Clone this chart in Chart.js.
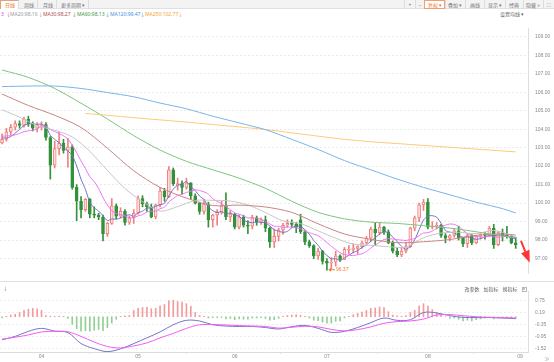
<!DOCTYPE html>
<html>
<head>
<meta charset="utf-8">
<script src="https://cdn.jsdelivr.net/npm/chart.js@4.4.1/dist/chart.umd.min.js"></script>
<style>
html,body{margin:0;padding:0;background:#fff;}
body{width:554px;height:362px;position:relative;overflow:hidden;font-family:"Noto Sans","Noto Sans CJK SC",sans-serif;}
.box{position:absolute;box-sizing:border-box;}
.t{position:absolute;white-space:nowrap;font-size:10px;line-height:12px;font-family:"Noto Sans","Noto Sans CJK SC",sans-serif;}
.c{transform-origin:50% 50%;transform:translate(-50%,-50%) scale(0.5);}
.l{transform-origin:0 50%;transform:translateY(-50%) scale(0.5);}
canvas{position:absolute;left:0;}
</style>
</head>
<body>
<canvas id="main" width="554" height="265" style="top:18px;width:554px;height:265px;"></canvas>
<canvas id="macd" width="554" height="81" style="top:281px;width:554px;height:81px;"></canvas>
<div id="overlay"></div>
<script>
// ---------------- DATA ----------------
const dates = ['03-19','03-20','03-21','03-24','03-25','03-26','03-27','03-28','03-31',
'04-01','04-02','04-03','04-04','04-07','04-08','04-09','04-10','04-11','04-14','04-15','04-16','04-17','04-18','04-21','04-22','04-23','04-24','04-25','04-28','04-29','04-30',
'05-01','05-02','05-05','05-06','05-07','05-08','05-09','05-12','05-13','05-14','05-15','05-16','05-19','05-20','05-21','05-22','05-23','05-26','05-27','05-28','05-29','05-30',
'06-02','06-03','06-04','06-05','06-06','06-09','06-10','06-11','06-12','06-13','06-16','06-17','06-18','06-19','06-20','06-23','06-24','06-25','06-26','06-27','06-30',
'07-01','07-02','07-03','07-04','07-07','07-08','07-09','07-10','07-11','07-14','07-15','07-16','07-17','07-18','07-21','07-22','07-23','07-24','07-25','07-28','07-29','07-30','07-31',
'08-01','08-04','08-05','08-06','08-07','08-08','08-11','08-12','08-13','08-14','08-15','08-18','08-19','08-20','08-21','08-22','08-25','08-26','08-27','08-28','08-29',
'09-01'];

const opens = [103.25,103.45,103.85,104.10,104.30,104.20,104.55,104.30,104.05,104.20,
104.25,103.55,102.05,102.95,103.25,102.85,103.05,100.85,100.10,99.65,
100.20,99.40,99.35,99.25,98.35,98.90,99.85,99.30,99.55,98.95,
99.20,99.45,100.25,99.95,99.80,99.25,99.90,100.65,100.35,101.80,
100.95,101.05,100.85,101.10,100.40,100.00,99.55,99.95,99.10,99.35,
99.50,99.85,99.25,99.40,98.70,99.25,98.80,98.75,99.20,98.95,
99.10,98.65,97.90,98.20,98.55,98.80,98.90,98.85,99.10,98.45,
97.90,97.70,97.15,97.40,96.85,96.75,96.80,97.15,96.95,97.45,
97.50,97.55,97.65,97.85,98.10,98.60,98.40,98.70,98.45,97.85,
97.40,97.20,97.40,97.65,98.65,99.20,99.90,100.05,98.70,98.75,
98.80,98.25,98.10,98.25,98.50,98.10,97.80,98.25,97.85,98.20,
98.30,98.25,98.65,97.75,98.40,98.25,98.20,97.85];
const highs = [103.75,104.05,104.25,104.45,104.45,104.65,104.70,104.40,104.35,104.40,
104.35,103.60,103.35,103.85,103.45,103.50,103.15,101.00,100.35,100.25,
100.25,99.80,99.45,99.35,98.95,100.25,99.95,99.75,99.65,99.30,
99.65,100.40,100.40,100.05,99.95,99.95,100.85,100.80,101.98,101.90,
101.35,101.20,101.35,101.10,100.50,100.05,100.20,100.05,99.40,99.65,
100.10,100.55,99.60,99.45,99.35,99.35,99.05,99.35,99.30,99.20,
99.30,98.70,98.60,98.65,98.90,99.10,99.10,98.95,99.40,98.50,
98.00,97.75,97.55,97.45,97.00,97.05,97.40,97.20,97.60,97.70,
97.80,97.70,97.95,98.20,98.70,98.95,98.95,98.75,98.55,97.95,
97.55,97.60,97.85,98.70,99.30,100.00,100.20,100.25,99.00,98.95,
98.85,98.35,98.30,98.60,98.75,98.15,98.35,98.30,98.25,98.35,
98.40,98.75,98.85,98.45,98.60,98.75,98.25,98.15];
const lows = [103.20,103.35,103.70,103.95,104.05,104.10,104.15,103.90,103.85,103.95,
103.40,101.30,101.90,102.60,102.70,101.95,100.75,99.05,99.20,99.55,
99.20,99.20,99.10,97.95,98.20,98.85,99.15,99.20,98.80,98.85,
98.90,99.40,99.80,99.55,99.20,99.15,99.80,100.10,100.30,100.95,
100.70,100.50,100.75,100.20,99.95,99.40,99.40,98.70,98.70,98.80,
99.40,99.10,99.00,98.60,98.60,98.70,98.35,98.60,98.80,98.85,
98.45,97.60,97.60,97.95,98.30,98.70,98.70,98.40,98.35,97.75,
97.60,97.00,96.95,96.70,96.37,96.45,96.60,96.85,96.95,97.25,
97.30,97.25,97.55,97.80,97.90,97.70,98.30,98.30,97.80,97.30,
97.10,97.10,97.30,97.60,98.50,99.00,99.60,98.60,98.60,98.60,
98.15,97.85,97.95,98.15,98.00,97.65,97.60,97.75,97.80,98.05,
98.05,98.20,97.55,97.70,97.95,98.10,97.80,97.55];
const closes = [103.45,103.85,104.10,104.30,104.20,104.55,104.30,104.05,104.20,104.25,
103.55,102.05,102.95,103.25,102.85,103.05,100.85,100.10,99.65,100.20,
99.40,99.35,99.25,98.35,98.90,99.85,99.30,99.55,98.95,99.20,
99.45,100.25,99.95,99.80,99.25,99.90,100.65,100.35,101.80,101.05,
101.05,100.85,101.10,100.40,100.00,99.55,99.95,99.10,99.35,99.50,
99.85,99.25,99.40,98.70,99.25,98.80,98.75,99.20,98.95,99.10,
98.65,97.90,98.20,98.55,98.80,98.90,98.85,98.70,98.45,97.90,
97.70,97.15,97.40,96.85,96.75,96.80,97.15,96.95,97.50,97.50,
97.55,97.65,97.85,98.10,98.60,98.40,98.70,98.45,97.85,97.40,
97.20,97.40,97.65,98.65,99.20,99.90,100.05,98.70,98.75,98.80,
98.25,98.10,98.25,98.50,98.10,97.80,98.25,97.85,98.20,98.30,
98.25,98.65,97.75,98.40,98.25,98.20,97.85,97.75];

const ma5 = [103.52,103.52,103.60,103.79,103.98,104.20,104.29,104.28,104.26,104.27,
104.12,103.67,103.45,103.26,103.00,102.82,102.58,102.01,101.29,100.74,
100.04,99.74,99.57,99.31,99.05,99.14,99.13,99.19,99.31,99.37,
99.29,99.48,99.56,99.73,99.74,99.83,99.91,99.99,100.39,100.75,
100.98,101.02,101.17,100.89,100.68,100.38,100.20,99.80,99.59,99.49,
99.55,99.41,99.47,99.34,99.29,99.08,98.98,98.94,98.99,98.96,
98.93,98.76,98.56,98.48,98.42,98.47,98.66,98.76,98.74,98.56,
98.32,97.98,97.72,97.40,97.17,96.99,96.99,96.90,97.03,97.18,
97.33,97.43,97.61,97.73,97.95,98.12,98.33,98.45,98.40,98.16,
97.92,97.66,97.50,97.66,98.02,98.56,99.09,99.30,99.32,99.24,
98.91,98.52,98.43,98.38,98.24,98.15,98.18,98.10,98.04,98.08,
98.17,98.25,98.23,98.27,98.26,98.25,98.09,98.09];
const ma10 = [103.62,103.63,103.65,103.69,103.77,103.86,103.91,103.94,104.03,104.13,
104.16,103.98,103.87,103.76,103.64,103.47,103.13,102.73,102.28,101.87,
101.43,101.16,100.79,100.30,99.90,99.59,99.44,99.38,99.31,99.21,
99.22,99.31,99.38,99.52,99.56,99.56,99.70,99.78,100.06,100.25,
100.41,100.47,100.58,100.64,100.72,100.68,100.61,100.49,100.24,100.09,
99.97,99.81,99.64,99.47,99.39,99.32,99.20,99.21,99.17,99.13,
99.01,98.87,98.75,98.74,98.69,98.70,98.71,98.66,98.61,98.49,
98.40,98.32,98.24,98.07,97.87,97.66,97.49,97.31,97.22,97.18,
97.16,97.21,97.26,97.38,97.57,97.73,97.88,98.03,98.07,98.06,
98.02,98.00,97.98,98.03,98.09,98.24,98.38,98.40,98.49,98.63,
98.74,98.81,98.87,98.85,98.74,98.53,98.35,98.27,98.21,98.16,
98.16,98.22,98.17,98.16,98.17,98.21,98.17,98.16];
const ma20At = [0,4,8,12,16,20,24,28,32,36,40,44,48,52,56,60,64,68,72,76,80,84,88,92,96,100,104,108,112,116,117];
const ma20 = [105.05,104.65,104.19,103.94,103.58,102.80,101.77,100.79,100.08,99.57,99.81,100.14,100.15,100.11,99.90,99.49,99.04,98.89,98.50,98.10,97.78,97.72,97.64,97.62,98.13,98.38,98.42,98.35,98.52,98.26,98.16];
const slowAt = [0,6,12,18,24,30,36,42,48,54,60,66,72,78,84,90,96,102,108,114,117];
const ma30 = [105.90,105.28,104.75,104.09,102.97,101.75,100.85,100.27,99.87,99.89,99.79,99.50,98.88,98.33,98.04,97.86,97.91,98.03,98.26,98.33,98.27];
const ma60 = [107.20,106.80,106.20,105.40,104.55,103.65,102.87,102.26,101.80,101.35,100.80,100.10,99.50,99.15,98.97,98.90,98.78,98.65,98.45,98.22,98.13];
const ma120 = [106.30,106.33,106.33,106.20,105.98,105.75,105.41,105.10,104.70,104.34,103.97,103.45,102.90,102.30,101.80,101.30,100.85,100.45,100.05,99.70,99.47];
const ma250At = [19,24,30,36,42,48,54,60,66,72,78,84,90,96,102,108,114,117];
const ma250 = [104.85,104.75,104.62,104.50,104.38,104.25,104.12,103.98,103.80,103.62,103.45,103.32,103.22,103.12,103.02,102.92,102.82,102.77];

const macdHist = [-0.06,0.02,0.08,0.12,0.20,0.30,0.36,0.40,0.38,0.30,
0.06,0.03,0.02,0.03,0.02,-0.08,-0.36,-0.56,-0.68,-0.66,
-0.68,-0.64,-0.60,-0.66,-0.52,-0.30,-0.12,0.02,0.04,0.06,
0.30,0.40,0.44,0.45,0.38,0.40,0.52,0.58,0.76,0.78,
0.72,0.70,0.62,0.50,0.20,0.06,0.02,-0.06,-0.04,-0.04,
-0.03,-0.10,-0.08,-0.14,-0.10,-0.12,-0.12,-0.06,-0.06,-0.04,
-0.08,-0.16,-0.14,-0.08,0.02,0.06,0.08,0.10,0.06,0.02,
-0.06,-0.16,-0.18,-0.26,-0.30,-0.30,-0.22,-0.20,-0.06,0.02,
0.10,0.16,0.22,0.30,0.40,0.42,0.46,0.44,0.24,0.08,
0.04,0.02,0.06,0.20,0.30,0.52,0.62,0.50,0.34,0.20,
0.10,0.00,-0.08,-0.06,-0.12,-0.20,-0.16,-0.20,-0.14,-0.10,
-0.06,-0.02,-0.10,-0.06,-0.04,-0.03,-0.06,-0.08];
const macdAt = [0,3,6,9,12,15,18,21,24,27,30,33,36,39,42,45,48,51,54,57,60,63,66,69,72,75,78,81,84,87,90,93,96,99,102,105,108,111,114,117];
const dif = [-1.09,-0.93,-0.69,-0.55,-0.68,-0.75,-1.27,-1.51,-1.65,-1.52,
-1.27,-1.00,-0.72,-0.38,-0.17,-0.20,-0.38,-0.44,-0.46,-0.46,
-0.51,-0.58,-0.47,-0.41,-0.55,-0.74,-0.69,-0.51,-0.28,-0.06,
-0.17,-0.14,0.20,0.18,0.05,-0.03,-0.04,-0.04,-0.06,-0.09];
const dea = [-1.06,-0.97,-0.86,-0.72,-0.69,-0.71,-0.93,-1.20,-1.41,-1.48,
-1.38,-1.24,-1.00,-0.79,-0.55,-0.38,-0.37,-0.39,-0.42,-0.44,
-0.46,-0.54,-0.50,-0.45,-0.48,-0.60,-0.67,-0.61,-0.48,-0.31,
-0.23,-0.20,-0.11,0.08,0.10,0.05,0.00,-0.03,-0.04,-0.06];

const priceTicks = [97,98,99,100,101,102,103,104,105,106,107,108,109];
const macdTicks = [0.75,0.19,-0.35,-0.95,-1.52];
const monthLabels = ['04','05','06','07','08','09'];
const monthStarts = ['04-01','05-01','06-02','07-01','08-01','09-01'];
const arrowFrom = {x:118.2, y:97.96};
const arrowTo = {x:120.2, y:96.78};

// ---------------- VIEW ----------------
const xMin = -0.46, xMax = 119.8;
const priceMin = 96.22, priceMax = 109.47;
const macdMin = -1.67, macdMax = 1.22;
const FONT = 'Liberation Sans, Arial, sans-serif';
Chart.defaults.font.family = FONT;

const UP = '#f08080', UPFILL = '#fde2e2', DOWN = '#33913a';
const idx = opens.map((_, i) => i);
const isUp = i => closes[i] >= opens[i];
const pts = (at, arr) => at.map((x, k) => ({x, y: arr[k]}));
const line = (data, color, tension) => ({type:'line', data, borderColor:color, borderWidth:1, pointRadius:0, tension:tension, order:1, fill:false});

const markerPlugin = {
  id:'marks',
  afterDraw(chart){
    const {ctx, scales:{x, y}} = chart;
    const lo = Math.min(...lows), iMin = lows.indexOf(lo);
    const px = x.getPixelForValue(iMin), py = y.getPixelForValue(lo);
    ctx.save();
    ctx.strokeStyle = ctx.fillStyle = '#f07a35';
    ctx.lineWidth = 1;
    ctx.beginPath(); ctx.moveTo(px + 2, py - 0.5); ctx.lineTo(px + 8, py - 0.5); ctx.stroke();
    ctx.beginPath(); ctx.moveTo(px + 1.5, py - 0.5); ctx.lineTo(px + 4, py - 2.5); ctx.lineTo(px + 4, py + 1.5); ctx.closePath(); ctx.fill();
    ctx.font = '5px ' + FONT; ctx.textBaseline = 'middle'; ctx.textAlign = 'left';
    ctx.fillText(lo.toFixed(2), px + 9, py - 0.5);
    // annotation arrow
    const x1 = x.getPixelForValue(arrowFrom.x), y1 = y.getPixelForValue(arrowFrom.y);
    const x2 = x.getPixelForValue(arrowTo.x), y2 = y.getPixelForValue(arrowTo.y);
    const a = Math.atan2(y2 - y1, x2 - x1), head = 12, hw = 4.5;
    const bx = x2 - head * Math.cos(a), by = y2 - head * Math.sin(a);
    ctx.strokeStyle = ctx.fillStyle = '#ff3434';
    ctx.lineWidth = 2;
    ctx.beginPath(); ctx.moveTo(x1, y1); ctx.lineTo(bx, by); ctx.stroke();
    ctx.beginPath(); ctx.moveTo(x2, y2);
    ctx.lineTo(bx + hw * Math.sin(a), by - hw * Math.cos(a));
    ctx.lineTo(bx - hw * Math.sin(a), by + hw * Math.cos(a));
    ctx.closePath(); ctx.fill();
    ctx.restore();
  }
};

new Chart(document.getElementById('main'), {
  type:'bar',
  data:{datasets:[
    {type:'bar', data: idx.map(i => ({x:i, y:[lows[i], highs[i]]})), backgroundColor: idx.map(i => isUp(i) ? UP : DOWN), barThickness:1, grouped:false, order:3},
    {type:'bar', data: idx.map(i => ({x:i, y:[opens[i], closes[i]]})), backgroundColor: idx.map(i => isUp(i) ? UPFILL : DOWN), borderColor: idx.map(i => isUp(i) ? UP : DOWN), borderWidth:1, borderSkipped:false, barThickness:3, grouped:false, minBarLength:1, order:2},
    line(pts(slowAt, ma120), '#79b3ea', 0.3),
    line(pts(ma250At, ma250), '#fcca7c', 0.3),
    line(pts(slowAt, ma60), '#7fc47f', 0.3),
    line(pts(slowAt, ma30), '#c98585', 0.3),
    line(pts(ma20At, ma20), '#c6c6c6', 0.3),
    line(pts(idx, ma10), '#f06ef0', 0.2),
    line(pts(idx, ma5), '#6f6fc2', 0.2)
  ]},
  options:{
    responsive:false, animation:false,
    layout:{padding:{top:2, bottom:2, left:0, right:0}},
    plugins:{legend:{display:false}, tooltip:{enabled:false}},
    scales:{
      x:{type:'linear', min:xMin, max:xMax, offset:false, display:false},
      y:{type:'linear', position:'right', min:priceMin, max:priceMax,
         afterBuildTicks: s => { s.ticks = priceTicks.map(v => ({value:v})); },
         afterFit: s => { s.width = 26; },
         ticks:{autoSkip:false, padding:7, color:'#8a8a8a', font:{size:5, family:FONT}, callback: v => Number(v).toFixed(2)},
         grid:{color:'#e9e9e9', drawTicks:false},
         border:{display:true, color:'#dedede', dash:[2,2]}
      }
    }
  },
  plugins:[markerPlugin]
});

const monthIdx = monthStarts.map(d => dates.indexOf(d));
new Chart(document.getElementById('macd'), {
  type:'bar',
  data:{datasets:[
    {type:'bar', data: macdHist.map((v, i) => ({x:i, y:v})), backgroundColor: macdHist.map(v => v >= 0 ? '#f29c9c' : '#93cf93'), barThickness:1, grouped:false, order:2},
    line(pts(macdAt, dea), '#f25cf2', 0.35),
    line(pts(macdAt, dif), '#7473c6', 0.35)
  ]},
  options:{
    responsive:false, animation:false,
    layout:{padding:{top:2, bottom:0, left:0, right:0}},
    plugins:{legend:{display:false}, tooltip:{enabled:false}},
    scales:{
      x:{type:'linear', min:xMin, max:xMax, offset:false,
         afterBuildTicks: s => { s.ticks = monthIdx.map(v => ({value:v})); },
         afterFit: s => { s.height = 9; },
         ticks:{autoSkip:false, maxRotation:0, padding:0, color:'#8a8a8a', font:{size:5, family:FONT}, callback:(v, i) => monthLabels[i]},
         grid:{drawOnChartArea:false, drawTicks:true, tickLength:2, color:'#dcdcdc'},
         border:{display:true, color:'#dcdcdc'}
      },
      y:{type:'linear', position:'right', min:macdMin, max:macdMax,
         afterBuildTicks: s => { s.ticks = macdTicks.map(v => ({value:v})); },
         afterFit: s => { s.width = 26; },
         ticks:{autoSkip:false, padding:7, color:'#8a8a8a', font:{size:5, family:FONT}, callback: v => Number(v).toFixed(2)},
         grid:{color:'#ececec', drawTicks:false},
         border:{display:true, color:'#dedede', dash:[2,2]}
      }
    }
  }
});

// ---------------- HTML chrome (text) ----------------
const ov = document.getElementById('overlay');
function box(x, y, w, h, style){ const d = document.createElement('div'); d.className='box'; d.style.cssText += `left:${x}px;top:${y}px;width:${w}px;height:${h}px;` + (style||''); ov.appendChild(d); return d; }
function txt(s, x, y, color, mode){ const d = document.createElement('div'); d.className = 't ' + (mode || 'c'); d.textContent = s; d.style.left = x + 'px'; d.style.top = y + 'px'; d.style.color = color || '#666'; ov.appendChild(d); return d; }

// separator between panels
box(0, 281, 554, 1, 'background:#e3e3e3;');
// toolbar
box(0, 0, 554, 9, 'background:#f3f3f3;border-bottom:1px solid #e0e0e0;');
const tabs = [['日线',0,19,true],['周线',19,38],['月线',38,57],['更多周期 ▾',57,89]];
tabs.forEach(([s, a, b, act]) => {
  box(a, 0, b - a, 9, 'border-right:1px solid #dddddd;' + (act ? 'background:#fff;border-left:1px solid #e0a080;border-top:1px solid #e0a080;' : ''));
  txt(s, (a + b) / 2, 4.5, act ? '#f0701e' : '#777');
});
const btns = [['+',404,415],['−',415,424],['复权 ▾',424,445,true],['叠加 ▾',445,465],['画线',465,484],['显示 ▾',484,505],['经典',505,523],['隐藏 »',523,543],['⛶',543,554]];
btns.forEach(([s, a, b, hl]) => {
  box(a, 0, b - a, 9, hl ? 'background:#fff;border:1px solid #f0a070;' : 'border-left:1px solid #dddddd;');
  txt(s, (a + b) / 2, 4.5, hl ? '#f0701e' : '#777');
});
// MA legend
const last = a => a[a.length - 1].toFixed(2);
const leg = [
  ['3', 1, '#e040e0'], ['↓', 5.5, '#e040e0'],
  ['MA20:' + last(ma20), 10, '#9a9a9a'], ['↓', 37.5, '#9a9a9a'],
  ['MA30:' + last(ma30), 43, '#b04a4a'], ['↓', 71.5, '#b04a4a'],
  ['MA60:' + last(ma60), 77, '#3c9a3c'], ['↓', 104.5, '#3c9a3c'],
  ['MA120:' + last(ma120), 110, '#3f8fda'], ['↓', 139.5, '#3f8fda'],
  ['MA250:' + last(ma250), 145, '#f2a530'], ['↓', 177.5, '#f2a530']
];
leg.forEach(([s, x, c]) => txt(s, x, 14, c, 'l'));
txt('设置均线 ▾', 512, 14, '#666');
// MACD panel labels
txt('↓', 3, 288, '#888', 'l');
txt('改参数', 472, 289, '#666');
txt('加指标', 491, 289, '#666');
txt('换指标', 510, 289, '#666');
box(521.5, 286.5, 5, 5, 'border:1px solid #bbb;background:#fff;');
txt('×', 524, 289, '#888');
txt('≫', 547, 357.5, '#999');
</script>
</body>
</html>
